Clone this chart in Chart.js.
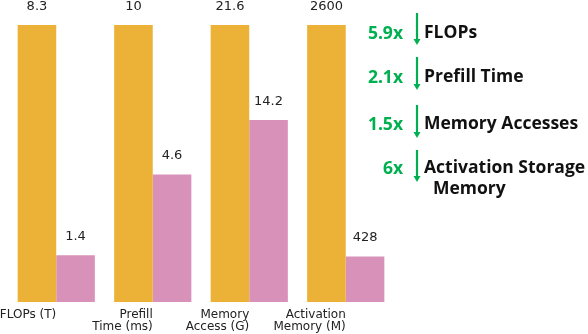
<!DOCTYPE html>
<html>
<head>
<meta charset="utf-8">
<script src="https://cdn.jsdelivr.net/npm/chart.js@4.4.1/dist/chart.umd.min.js"></script>
<style>
  html, body { margin: 0; padding: 0; background: #fff; }
  #wrap { position: relative; width: 588px; height: 334px; overflow: hidden; }
  #c { position: absolute; left: 0; top: 0; }
  #notes { position: absolute; left: 0; top: 0; width: 588px; height: 334px; font-family: "Open Sans", sans-serif; font-weight: 700; }
  .num { position: absolute; width: 60px; text-align: right; color: #00B050; font-size: 17.5px; line-height: 20px; font-weight: 700; }
  .lbl { position: absolute; color: #111; font-size: 17.5px; line-height: 21px; white-space: nowrap; font-weight: 700; }
  svg.arr { position: absolute; overflow: visible; }
</style>
</head>
<body>
<div id="wrap">
  <canvas id="c" width="588" height="334"></canvas>
  <div id="notes"></div>
</div>
<script>
// ---- data ----
const categories = ["FLOPs (T)", ["Prefill", "Time (ms)"], ["Memory", "Access (G)"], ["Activation", "Memory (M)"]];
const baselineValues = [8.3, 10, 21.6, 2600];
const reducedValues = [1.4, 4.6, 14.2, 428];
const baselineLabels = ["8.3", "10", "21.6", "2600"];
const reducedLabels = ["1.4", "4.6", "14.2", "428"];
const reductionFactors = ["5.9x", "2.1x", "1.5x", "6x"];
const reductionNames = ["FLOPs", "Prefill Time", "Memory Accesses", "Activation Storage\nMemory"];

// normalized heights (each group relative to its baseline)
const baselineNorm = baselineValues.map((v, i) => v / baselineValues[i]);
const reducedNorm = reducedValues.map((v, i) => v / baselineValues[i]);

const valueLabelPlugin = {
  id: 'valueLabels',
  afterDatasetsDraw(chart) {
    const ctx = chart.ctx;
    ctx.save();
    ctx.font = '13px "DejaVu Sans"';
    ctx.fillStyle = '#222';
    ctx.textAlign = 'center';
    ctx.textBaseline = 'middle';
    const sets = [baselineLabels, reducedLabels];
    chart.data.datasets.forEach((ds, di) => {
      chart.getDatasetMeta(di).data.forEach((bar, i) => {
        ctx.fillText(sets[di][i], bar.x, bar.y - 18.5);
      });
    });
    ctx.restore();
  }
};

new Chart(document.getElementById('c'), {
  type: 'bar',
  data: {
    labels: categories,
    datasets: [
      { data: baselineNorm, backgroundColor: '#ECB237', borderWidth: 0 },
      { data: reducedNorm, backgroundColor: '#D892BA', borderWidth: 0 }
    ]
  },
  options: {
    responsive: false,
    animation: false,
    categoryPercentage: 0.8,
    barPercentage: 1.0,
    layout: { autoPadding: false, padding: { left: 8, right: 194, top: 25, bottom: 0 } },
    plugins: { legend: { display: false }, tooltip: { enabled: false } },
    scales: {
      x: {
        grid: { display: false, drawTicks: false },
        border: { display: false },
        ticks: {
          align: 'end',
          padding: 7,
          color: '#222',
          font: { family: 'DejaVu Sans', size: 12, lineHeight: 1.0 },
          maxRotation: 0, minRotation: 0, autoSkip: false
        },
        afterFit(scale) {
          scale.height = 32;
          scale.paddingLeft = 0;
          scale.paddingRight = 0;
        }
      },
      y: { display: false, min: 0, max: 1 }
    }
  },
  plugins: [valueLabelPlugin]
});

// ---- right-hand annotation panel ----
const notes = document.getElementById('notes');
const rowTops = [33, 77, 124, 168]; // vertical centre of each row
const arrowSpans = [[13, 45], [57, 90], [105, 138], [150, 182]];
reductionFactors.forEach((f, i) => {
  const num = document.createElement('div');
  num.className = 'num';
  num.style.left = (403 - 60) + 'px';
  num.style.top = (rowTops[i] - 11) + 'px';
  num.textContent = f;
  notes.appendChild(num);

  const [y0, y1] = arrowSpans[i];
  const svg = document.createElementNS('http://www.w3.org/2000/svg', 'svg');
  svg.setAttribute('class', 'arr');
  svg.setAttribute('width', '12');
  svg.setAttribute('height', String(y1 - y0));
  svg.style.left = '411px';
  svg.style.top = y0 + 'px';
  const h = y1 - y0;
  svg.innerHTML = `<line x1="6" y1="0" x2="6" y2="${h - 5}" stroke="#00B050" stroke-width="2.2"/>` +
                  `<polygon points="2.5,${h - 6} 9.5,${h - 6} 6,${h}" fill="#00B050"/>`;
  notes.appendChild(svg);

  const lbl = document.createElement('div');
  lbl.className = 'lbl';
  const parts = reductionNames[i].split('\n');
  lbl.style.left = '424px';
  lbl.style.top = (rowTops[i] - 12) + 'px';
  lbl.innerHTML = parts.map((p, k) => k === 0 ? p : `<div style="padding-left:9px">${p}</div>`).join('');
  notes.appendChild(lbl);
});
</script>
</body>
</html>
